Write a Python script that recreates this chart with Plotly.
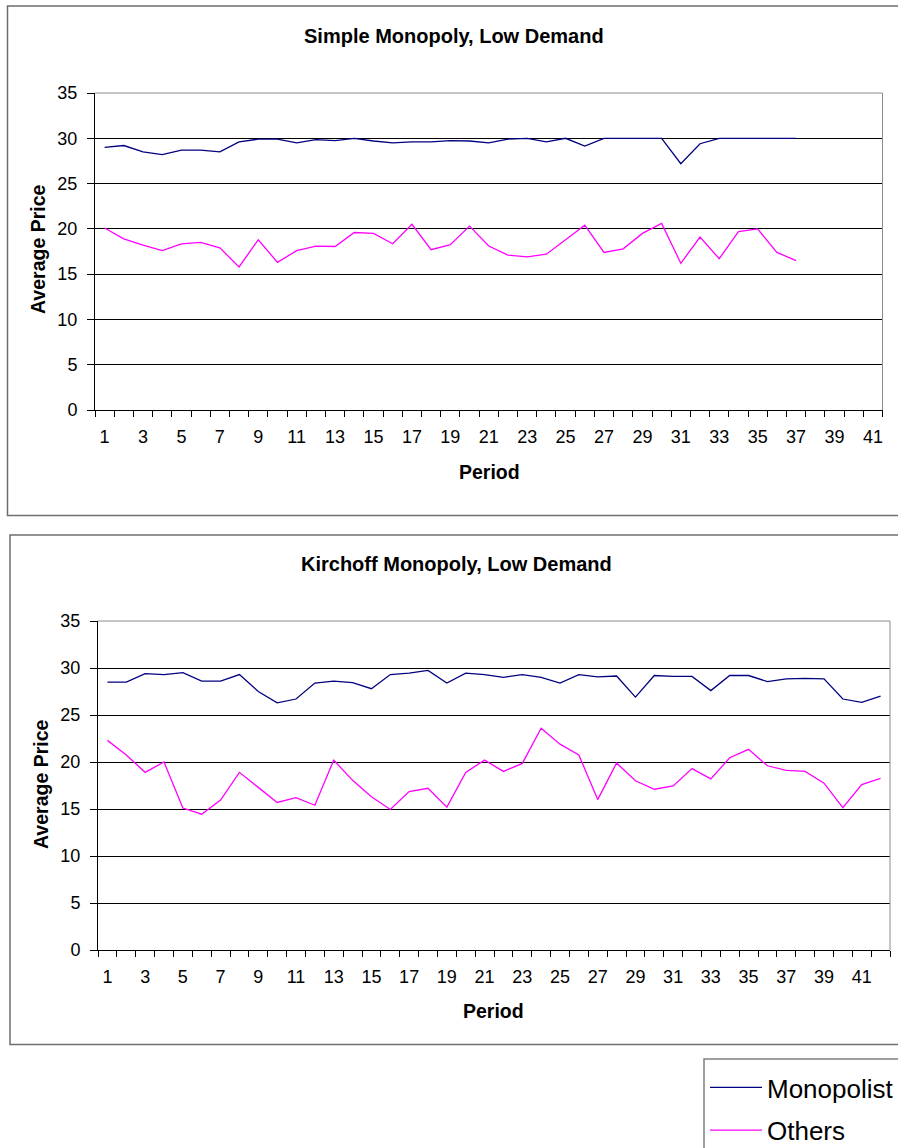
import plotly.graph_objects as go

# ---------------- data ----------------
simple_periods = list(range(1, 38))
simple_monopolist = [29.0, 29.2, 28.5, 28.2, 28.7, 28.7, 28.5, 29.6, 29.9, 29.9,
                     29.5, 29.85, 29.75, 30.0, 29.7, 29.5, 29.6, 29.6, 29.75, 29.7,
                     29.5, 29.9, 30.0, 29.6, 30.0, 29.15, 30.0, 30.0, 30.0, 30.0,
                     27.2, 29.4, 30.0, 30.0, 30.0, 30.0, 30.0]
simple_others = [20.1, 18.9, 18.2, 17.6, 18.35, 18.5, 17.9, 15.8, 18.8, 16.3,
                 17.6, 18.1, 18.05, 19.6, 19.5, 18.35, 20.5, 17.7, 18.25, 20.3,
                 18.1, 17.1, 16.9, 17.2, 18.8, 20.4, 17.4, 17.8, 19.5, 20.6,
                 16.2, 19.1, 16.7, 19.7, 20.0, 17.4, 16.5]
simple_n_categories = 41

kirchoff_periods = list(range(1, 43))
kirchoff_monopolist = [28.5, 28.5, 29.4, 29.3, 29.5, 28.6, 28.6, 29.3, 27.5, 26.3,
                       26.7, 28.4, 28.6, 28.45, 27.8, 29.3, 29.45, 29.75, 28.4, 29.45,
                       29.3, 29.0, 29.3, 29.0, 28.4, 29.3, 29.05, 29.15, 26.9, 29.2,
                       29.1, 29.1, 27.6, 29.2, 29.2, 28.55, 28.85, 28.9, 28.85, 26.7,
                       26.35, 27.0]
kirchoff_others = [22.3, 20.75, 18.9, 20.0, 15.1, 14.45, 15.95, 18.9, 17.3, 15.7,
                   16.2, 15.4, 20.2, 18.05, 16.3, 14.95, 16.85, 17.2, 15.2, 18.9,
                   20.2, 19.0, 19.85, 23.6, 21.9, 20.75, 16.0, 19.9, 18.0, 17.1,
                   17.45, 19.3, 18.2, 20.45, 21.35, 19.6, 19.1, 19.0, 17.75, 15.15,
                   17.6, 18.25]
kirchoff_n_categories = 42

x_tick_values = list(range(1, 42, 2))
x_tick_labels = [str(v) for v in x_tick_values]
y_tick_values = list(range(0, 36, 5))

titles = ["Simple Monopoly, Low Demand", "Kirchoff Monopoly, Low Demand"]

# ---------------- layout helpers ----------------
W, H = 898, 1148
FONT = "Liberation Sans, Arial, sans-serif"
NAVY = "#000080"
MAGENTA = "#FF00FF"


def px(x):
    return x / W


def py(y):
    return 1 - y / H


fig = go.Figure()

fig.add_trace(go.Scatter(x=simple_periods, y=simple_monopolist, mode="lines",
                         name="Monopolist", line=dict(color=NAVY, width=1.3),
                         legendgroup="mono", xaxis="x", yaxis="y"))
fig.add_trace(go.Scatter(x=simple_periods, y=simple_others, mode="lines",
                         name="Others", line=dict(color=MAGENTA, width=1.3),
                         legendgroup="oth", xaxis="x", yaxis="y"))
fig.add_trace(go.Scatter(x=kirchoff_periods, y=kirchoff_monopolist, mode="lines",
                         name="Monopolist", line=dict(color=NAVY, width=1.3),
                         legendgroup="mono", xaxis="x2", yaxis="y2", showlegend=False))
fig.add_trace(go.Scatter(x=kirchoff_periods, y=kirchoff_others, mode="lines",
                         name="Others", line=dict(color=MAGENTA, width=1.3),
                         legendgroup="oth", xaxis="x2", yaxis="y2", showlegend=False))

# plot areas (pixel boxes)
areas = [
    dict(l=95, r=882.5, t=93, b=410, n=simple_n_categories),
    dict(l=98, r=890, t=621, b=950, n=kirchoff_n_categories),
]


def xaxis_cfg(a, anchor):
    n = a["n"]
    return dict(
        domain=[px(a["l"]), px(a["r"])], anchor=anchor,
        range=[0.5, n + 0.5], tickmode="array",
        tickvals=x_tick_values, ticktext=x_tick_labels,
        ticks="", showgrid=False, zeroline=False,
        showline=True, linecolor="black", linewidth=1,
        tickfont=dict(family=FONT, size=18, color="black"),
        ticklabelstandoff=10,
        minor=dict(tickmode="array", tickvals=[i + 0.5 for i in range(n + 1)],
                   ticks="outside", ticklen=6, tickcolor="black", tickwidth=1,
                   showgrid=False),
        fixedrange=True,
    )


def yaxis_cfg(a, anchor):
    return dict(
        domain=[py(a["b"]), py(a["t"])], anchor=anchor,
        range=[0, 35], tickmode="array", tickvals=y_tick_values,
        ticks="outside", ticklen=7, tickcolor="black",
        showgrid=True, gridcolor="black", gridwidth=1,
        zeroline=False, showline=True, linecolor="black", linewidth=1,
        tickfont=dict(family=FONT, size=18, color="black"),
        ticklabelstandoff=6,
        fixedrange=True,
    )


shapes = []
# chart boxes
shapes.append(dict(type="rect", xref="paper", yref="paper",
                   x0=px(7.5), x1=px(902), y0=py(6), y1=py(515.5),
                   line=dict(color="#6e6e6e", width=1.5), layer="below"))
shapes.append(dict(type="rect", xref="paper", yref="paper",
                   x0=px(10), x1=px(902), y0=py(535), y1=py(1044.5),
                   line=dict(color="#6e6e6e", width=1.5), layer="below"))
# legend box (runs off the page like the reference)
shapes.append(dict(type="rect", xref="paper", yref="paper",
                   x0=px(704), x1=px(905), y0=py(1059), y1=py(1160),
                   line=dict(color="#808080", width=1.5), layer="below"))
# plot-area top/right borders (grey)
for a in areas:
    shapes.append(dict(type="line", xref="paper", yref="paper",
                       x0=px(a["l"]), x1=px(a["r"]), y0=py(a["t"]), y1=py(a["t"]),
                       line=dict(color="#8c8c8c", width=1)))
    shapes.append(dict(type="line", xref="paper", yref="paper",
                       x0=px(a["r"]), x1=px(a["r"]), y0=py(a["t"]), y1=py(a["b"]),
                       line=dict(color="#8c8c8c", width=1)))

annotations = []
title_pos = [(454, 36), (456, 564)]
ytitle_pos = [(38, 249), (41, 784)]
xtitle_pos = [(489, 472), (493, 1011)]
for i in range(2):
    annotations.append(dict(text=titles[i], xref="paper", yref="paper",
                            x=px(title_pos[i][0]), y=py(title_pos[i][1]),
                            xanchor="center", yanchor="middle", showarrow=False,
                            font=dict(family=FONT, size=20, color="black", weight="bold")))
    annotations.append(dict(text="Average Price", xref="paper", yref="paper",
                            x=px(ytitle_pos[i][0]), y=py(ytitle_pos[i][1]),
                            xanchor="center", yanchor="middle", showarrow=False,
                            textangle=-90,
                            font=dict(family=FONT, size=19.5, color="black", weight="bold")))
    annotations.append(dict(text="Period", xref="paper", yref="paper",
                            x=px(xtitle_pos[i][0]), y=py(xtitle_pos[i][1]),
                            xanchor="center", yanchor="middle", showarrow=False,
                            font=dict(family=FONT, size=19.5, color="black", weight="bold")))

fig.update_layout(
    width=W, height=H,
    margin=dict(l=0, r=0, t=0, b=0, pad=0, autoexpand=False),
    paper_bgcolor="white", plot_bgcolor="white",
    xaxis=xaxis_cfg(areas[0], "y"),
    yaxis=yaxis_cfg(areas[0], "x"),
    xaxis2=xaxis_cfg(areas[1], "y2"),
    yaxis2=yaxis_cfg(areas[1], "x2"),
    shapes=shapes,
    annotations=annotations,
    showlegend=True,
    legend=dict(x=px(705), y=py(1064), xanchor="left", yanchor="top",
                bgcolor="rgba(0,0,0,0)", borderwidth=0,
                font=dict(family=FONT, size=26, color="black"),
                itemwidth=52, tracegroupgap=6, traceorder="grouped"),
    hovermode=False,
)

fig.write_html("out.html")
